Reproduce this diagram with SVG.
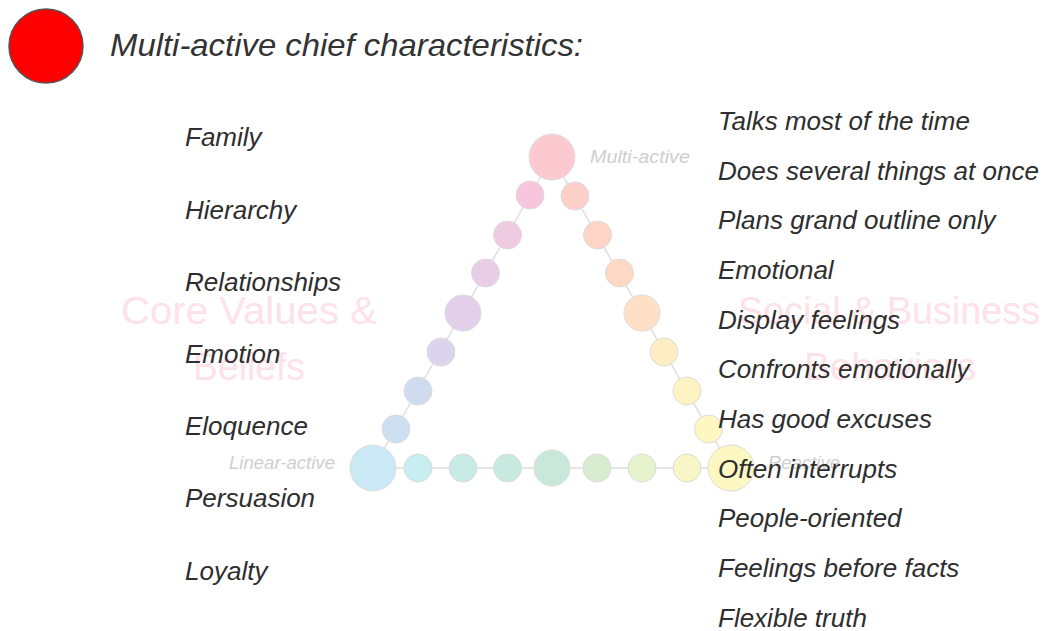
<svg xmlns="http://www.w3.org/2000/svg" width="1050" height="631" viewBox="0 0 1050 631">
<style>
.wm{font-family:"Liberation Sans",Arial,sans-serif;font-size:38px;fill:#fde2e8}
.lbl{font-family:"Liberation Sans",Arial,sans-serif;font-style:italic;font-size:18.5px;fill:#cfcfcf}
.item{font-family:"Liberation Sans",Arial,sans-serif;font-style:italic;font-size:26px;fill:#2e2e2e}
.title{font-family:"Liberation Sans",Arial,sans-serif;font-style:italic;font-size:32px;fill:#333}
.dot{stroke:#dcdcdc;stroke-width:1}
.edge{stroke:#dedede;stroke-width:1.5;fill:none}
</style>
<rect width="1050" height="631" fill="#fff"/>
<g id="watermarks">
<text class="wm" x="121" y="324" textLength="256" lengthAdjust="spacingAndGlyphs">Core Values &amp;</text>
<text class="wm" x="193" y="380" textLength="112" lengthAdjust="spacingAndGlyphs">Beliefs</text>
<text class="wm" x="738" y="324" textLength="302" lengthAdjust="spacingAndGlyphs">Social &amp; Business</text>
<text class="wm" x="804" y="380" textLength="172" lengthAdjust="spacingAndGlyphs">Behaviors</text>
</g>
<g id="header">
<circle cx="46" cy="46" r="37" fill="#ff0000" stroke="#555" stroke-width="1.5"/>
<text class="title" x="110" y="56" textLength="473" lengthAdjust="spacingAndGlyphs">Multi-active chief characteristics:</text>
</g>
<g id="connectors">
<line class="edge" x1="552" y1="157" x2="373" y2="468"/>
<line class="edge" x1="552" y1="157" x2="731" y2="468"/>
<line class="edge" x1="373" y1="468" x2="731" y2="468"/>
</g>
<g id="triangle-dots">
<circle class="dot" cx="552" cy="157" r="23" fill="#fdc9d0"/>
<circle class="dot" cx="530" cy="195" r="14" fill="#f7c5dc"/>
<circle class="dot" cx="507.5" cy="235" r="14" fill="#efcbe2"/>
<circle class="dot" cx="485.5" cy="273" r="14" fill="#e9cce6"/>
<circle class="dot" cx="463" cy="313" r="18" fill="#e3cfea"/>
<circle class="dot" cx="441" cy="352" r="14" fill="#dcd4ee"/>
<circle class="dot" cx="418" cy="391" r="14" fill="#cfdcf0"/>
<circle class="dot" cx="396" cy="429" r="14" fill="#cce0f2"/>
<circle class="dot" cx="373" cy="468" r="23" fill="#cbe8f5"/>
<circle class="dot" cx="418" cy="468" r="14" fill="#c9eef2"/>
<circle class="dot" cx="463" cy="468" r="14" fill="#c8ebe6"/>
<circle class="dot" cx="507.5" cy="468" r="14" fill="#c8e9df"/>
<circle class="dot" cx="552" cy="468" r="18" fill="#c9e8da"/>
<circle class="dot" cx="597" cy="468" r="14" fill="#d6eecf"/>
<circle class="dot" cx="642" cy="468" r="14" fill="#e6f3cc"/>
<circle class="dot" cx="687" cy="468" r="14" fill="#f6f6c6"/>
<circle class="dot" cx="731" cy="468" r="23" fill="#fdf8c2"/>
<circle class="dot" cx="575" cy="196" r="14" fill="#fdcfc8"/>
<circle class="dot" cx="597.5" cy="235" r="14" fill="#fdd4c6"/>
<circle class="dot" cx="619.5" cy="273" r="14" fill="#fdd9c3"/>
<circle class="dot" cx="642" cy="313" r="18" fill="#fee0c6"/>
<circle class="dot" cx="664" cy="352" r="14" fill="#feecc4"/>
<circle class="dot" cx="687" cy="391" r="14" fill="#fef3c3"/>
<circle class="dot" cx="708.5" cy="429" r="14" fill="#fef7c2"/>
</g>
<g id="corner-labels">
<text class="lbl" x="590" y="163" textLength="100" lengthAdjust="spacingAndGlyphs">Multi-active</text>
<text class="lbl" x="229" y="469" textLength="106" lengthAdjust="spacingAndGlyphs">Linear-active</text>
<text class="lbl" x="768" y="469" textLength="72" lengthAdjust="spacingAndGlyphs">Reactive</text>
</g>
<g id="left-list">
<text class="item" x="185" y="146">Family</text>
<text class="item" x="185" y="219">Hierarchy</text>
<text class="item" x="185" y="291">Relationships</text>
<text class="item" x="185" y="363">Emotion</text>
<text class="item" x="185" y="435">Eloquence</text>
<text class="item" x="185" y="507">Persuasion</text>
<text class="item" x="185" y="580">Loyalty</text>
</g>
<g id="right-list">
<text class="item" x="718" y="130">Talks most of the time</text>
<text class="item" x="718" y="180">Does several things at once</text>
<text class="item" x="718" y="229">Plans grand outline only</text>
<text class="item" x="718" y="279">Emotional</text>
<text class="item" x="718" y="329">Display feelings</text>
<text class="item" x="718" y="378">Confronts emotionally</text>
<text class="item" x="718" y="428">Has good excuses</text>
<text class="item" x="718" y="478">Often interrupts</text>
<text class="item" x="718" y="527">People-oriented</text>
<text class="item" x="718" y="577">Feelings before facts</text>
<text class="item" x="718" y="627">Flexible truth</text>
</g>
</svg>
